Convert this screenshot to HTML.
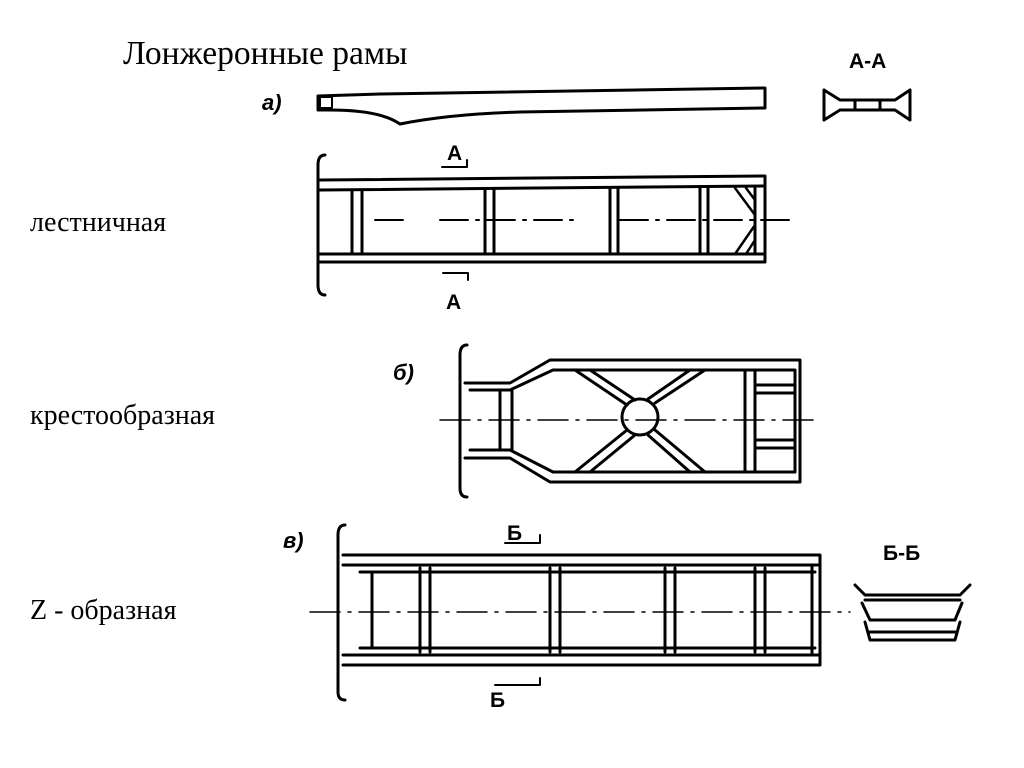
<!DOCTYPE html>
<html><head><meta charset="utf-8"><style>
html,body{margin:0;padding:0;background:#fff;width:1024px;height:768px;overflow:hidden}
svg{display:block}
</style></head><body>
<svg width="1024" height="768" viewBox="0 0 1024 768" xmlns="http://www.w3.org/2000/svg" font-family="Liberation Serif, serif">
<text x="123" y="64" font-size="33.5">Лонжеронные рамы</text>
<text x="30" y="231" font-size="28">лестничная</text>
<text x="30" y="424" font-size="28">крестообразная</text>
<text x="30" y="619" font-size="28">Z - образная</text>

<g fill="none" stroke="#000" stroke-width="3" stroke-linecap="round" stroke-linejoin="round">
<path d="M318 96 L380 94 L765 88 L765 108 L520 112 Q450 114 400 124 Q380 110 330 110 L318 110 Z"/>
<rect x="320" y="97" width="12" height="11" stroke-width="2"/>
<path d="M824 90 L840 100 L895 100 L910 90 M824 120 L840 110 L895 110 L910 120 M824 90 L824 120 M910 90 L910 120 M855 100 L855 110 M880 100 L880 110"/>

<path d="M325 155 Q318 155 318 165 L318 285 Q318 295 325 295"/>
<path d="M320 180 L765 176 L765 262 L320 262 M320 190 L765 186 M320 254 L765 254" />
<path d="M352 190 L352 254 M362 190 L362 254 M485 190 L485 254 M494 190 L494 254 M610 188 L610 254 M618 188 L618 254 M700 188 L700 254 M708 188 L708 254 M755 188 L755 254"/>
<path d="M735 188 L755 215 M746 188 L755 200 M735 254 L755 225 M746 254 L755 240" stroke-width="2.5"/>
<path d="M375 220 L410 220 M440 220 L580 220 M620 220 L790 220" stroke-width="2" stroke-dasharray="28 8 3 8"/>
<path d="M442 167 L467 167 L467 160 M443 273 L468 273 L468 280" stroke-width="2"/>

<path d="M467 345 Q460 345 460 355 L460 488 Q460 497 467 497"/>
<path d="M465 383 L510 383 L550 360 L800 360 L800 482 L550 482 L510 458 L465 458"/>
<path d="M470 390 L510 390 L553 370 L795 370 L795 472 L553 472 L510 450 L470 450"/>
<path d="M500 390 L500 450 M512 390 L512 450"/>
<circle cx="640" cy="417" r="18"/>
<path d="M575 370 L627 405 M590 370 L635 400 M655 403 L705 370 M648 399 L690 370 M627 430 L575 472 M635 435 L590 472 M648 435 L690 472 M655 430 L705 472"/>
<path d="M745 370 L745 472 M755 370 L755 472 M755 385 L795 385 M755 393 L795 393 M755 440 L795 440 M755 448 L795 448"/>
<path d="M440 420 L820 420" stroke-width="1.5" stroke-dasharray="30 8 3 8"/>

<path d="M345 525 Q338 525 338 535 L338 692 Q338 700 345 700"/>
<path d="M343 555 L820 555 L820 665 L343 665 M343 565 L820 565 M343 655 L820 655 M360 572 L815 572 M360 648 L815 648"/>
<path d="M372 572 L372 648 M420 568 L420 652 M430 568 L430 652 M550 568 L550 652 M560 568 L560 652 M665 568 L665 652 M675 568 L675 652 M755 568 L755 652 M765 568 L765 652 M812 565 L812 655"/>
<path d="M310 612 L850 612" stroke-width="1.5" stroke-dasharray="30 8 3 8"/>
<path d="M505 543 L540 543 L540 535 M495 685 L540 685 L540 678" stroke-width="2"/>
<path d="M855 585 L865 595 L960 595 L970 585 M865 600 L960 600 M862 603 L870 620 L955 620 L962 603 M865 622 L870 640 L955 640 L960 622 M870 632 L955 632"/>
</g>
<g font-family="Liberation Sans, sans-serif" font-weight="bold">
<text x="849" y="68" font-size="21">А-А</text>
<text x="447" y="160" font-size="21">А</text>
<text x="446" y="309" font-size="21">А</text>
<text x="507" y="540" font-size="21">Б</text>
<text x="490" y="707" font-size="21">Б</text>
<text x="883" y="560" font-size="21">Б-Б</text>
<text x="262" y="110" font-size="22" font-style="italic">а)</text>
<text x="393" y="380" font-size="22" font-style="italic">б)</text>
<text x="283" y="548" font-size="22" font-style="italic">в)</text>
</g>
</svg>
</body></html>
